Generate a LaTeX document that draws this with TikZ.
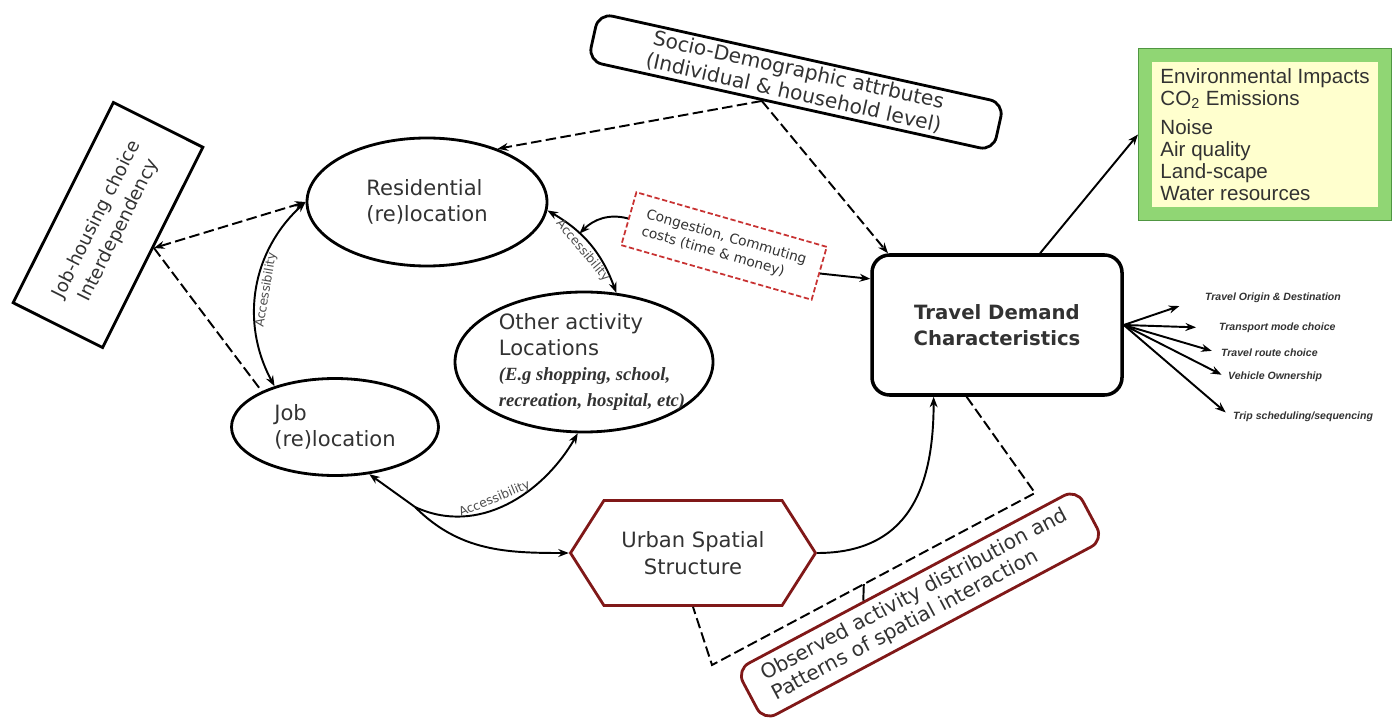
\documentclass[tikz,border=0pt]{standalone}
\usepackage{fontspec}
\setmainfont{DejaVu Sans}
\newfontfamily\arialfont{Liberation Sans}
\newfontfamily\tnrfont{Liberation Serif}
\usetikzlibrary{arrows.meta, calc, fit, backgrounds, shapes.geometric, shapes.symbols}

\definecolor{darkred}{RGB}{128,24,24}
\definecolor{congred}{RGB}{200,50,50}
\definecolor{envgreen}{RGB}{144,214,116}
\definecolor{envdark}{RGB}{80,150,66}
\definecolor{envyellow}{RGB}{255,255,206}
\definecolor{txtgray}{RGB}{50,50,50}

\begin{document}
\begin{tikzpicture}[
    >={Stealth[length=6pt, width=4.5pt]},
    loc/.style={ellipse, draw, line width=1.6pt, inner sep=0pt, align=left, text=txtgray,
                font=\fontsize{12}{15}\selectfont},
    tilted/.style={draw, line width=1.6pt, align=center, inner sep=2pt, text=txtgray},
    acc/.style={font=\fontsize{7}{8}\selectfont, text=black!70, inner sep=1.5pt},
    outlbl/.style={anchor=west, inner sep=1pt, text=txtgray,
                   font=\arialfont\bfseries\itshape\fontsize{6}{7}\selectfont},
    arr/.style={->, line width=1.1pt},
    dbl/.style={<->, line width=1.1pt},
    dsh/.style={line width=1.1pt, dash pattern=on 6pt off 2.5pt}
]
\useasboundingbox (0,0) rectangle (27.84,14.4);

% ---- LOCATIONS ----
\node[loc, minimum width=4.8cm, minimum height=2.56cm]  (res)   at (8.54,10.36) {Residential\\(re)location};
\node[loc, minimum width=4.14cm, minimum height=1.94cm] (job)   at (6.7,5.86)   {Job\\(re)location};
\node[loc, minimum width=5.16cm, minimum height=2.8cm,
      label={[align=left, text=txtgray, xshift=0.16cm, font=\fontsize{12}{14.5}\selectfont]center:
        Other activity\\Locations\\{\tnrfont\bfseries\itshape\fontsize{10.6}{14}\selectfont (E.g shopping, school,}\\
        {\tnrfont\bfseries\itshape\fontsize{10.6}{14}\selectfont recreation, hospital, etc)}}] (other) at (11.68,7.16) {};

% ---- TILTED BOXES ----
\node[tilted, rounded corners=8pt, inner sep=1pt, minimum width=8.3cm, minimum height=0.98cm, rotate=-12.5,
      font=\fontsize{11.5}{13.3}\selectfont] (socio) at (15.92,12.76)
    {Socio-Demographic attrbutes\\(Individual \& household level)};
\node[tilted, minimum width=4.48cm, minimum height=2cm, rotate=63.4,
      font=\fontsize{10.5}{14}\selectfont] (jh) at (2.16,9.9) {Job-housing choice\\Interdependency};
\node[tilted, draw=congred, line width=1pt, dash pattern=on 3pt off 1.5pt, align=left,
      minimum width=3.96cm, minimum height=1.1cm, rotate=-16,
      font=\fontsize{7.8}{10}\selectfont] (cong) at (14.48,9.48) {Congestion, Commuting\\costs (time \& money)};
\node[tilted, draw=darkred, rounded corners=8pt, align=left, minimum width=7.7cm, minimum height=1.16cm,
      rotate=28, font=\fontsize{11.5}{13}\selectfont] (obs) at (18.4,2.3)
    {Observed activity distribution and\\Patterns of spatial interaction};

% ---- TRAVEL DEMAND + OUTPUTS ----
\node[draw, line width=2pt, rounded corners=10pt, minimum width=5cm, minimum height=2.8cm, align=center,
      text=txtgray, font=\bfseries\fontsize{11.2}{14.5}\selectfont] (td) at (19.94,7.9)
    {Travel Demand\\Characteristics};

\node[fill=envyellow, minimum width=4.52cm, minimum height=2.9cm, align=left, text=txtgray,
      font=\arialfont\fontsize{11.7}{12.5}\selectfont] (env) at (25.3,11.71)
    {Environmental Impacts\\CO\textsubscript{2} Emissions\\[4pt]Noise\\Air quality\\Land-scape\\Water resources};

\node[outlbl] (o1) at (24.06,8.44) {Travel Origin \& Destination};
\node[outlbl] (o2) at (24.34,7.84) {Transport mode choice};
\node[outlbl] (o3) at (24.38,7.34) {Travel route choice};
\node[outlbl] (o4) at (24.52,6.86) {Vehicle Ownership};
\node[outlbl] (o5) at (24.62,6.06) {Trip scheduling/sequencing};

\foreach \n/\s in {o1/0.5, o2/0.42, o3/0.15, o4/0.1, o5/0.14}
    \draw[arr, shorten >=\s cm] (td.east) -- (\n.west);

% ---- URBAN STRUCTURE ----
\node[signal, signal to=east and west, signal pointer angle=115, draw=darkred, line width=1.6pt,
      minimum width=4.9cm, minimum height=2.1cm, align=center, text=txtgray,
      font=\fontsize{12}{15}\selectfont] (hex) at (13.86,3.34) {Urban Spatial\\Structure};

% ---- Background box ----
\begin{pgfonlayer}{background}
    \node[fit=(env), inner sep=0.26cm, fill=envgreen, draw=envdark, line width=0.8pt] (envbg) {};
\end{pgfonlayer}

% ---- Connectors ----
\coordinate (sd) at ($(socio.south west)!0.43!(socio.south east)$);
\draw[dsh, ->] (sd) -- (res.37);
\draw[dsh, ->] (sd) -- ($(td.north west)!0.07!(td.north east)$);

\draw[dsh, <->] (res.west) -- (jh.south);
\draw[dsh] (jh.south) -- (job.154);

\draw[dbl] (job.146) to[bend left=38] node[acc, sloped, below] {Accessibility} (res.west);
\draw[dbl] (res.-4) to[bend left=20] coordinate[pos=0.35] (accrc)
    node[acc, sloped, below, pos=0.5] {Accessibility} (other.65);

\draw[arr] (cong.west) to[out=165, in=45] (accrc);
\draw[arr] (cong.east) -- (td.160);

\coordinate (jsplit) at (8.3,4.26);
\draw[arr] (jsplit) -- (job.-54);
\draw[arr] (jsplit) to[out=-25, in=-120] node[acc, sloped, above, pos=0.45] {Accessibility} (other.-95);
\draw[arr] (jsplit) to[out=-45, in=180] (hex.west);

\draw[arr] (hex.east) to[out=0, in=-90, looseness=1.2] ($(td.south west)!0.25!(td.south east)$);

\coordinate (dk1) at (20.7,4.54);
\coordinate (dk2) at (14.24,1.1);
\draw[dsh] ($(td.south west)!0.38!(td.south east)$) -- (dk1) -- coordinate[pos=0.53] (dtick) (dk2) -- (hex.south);
\draw[line width=1.1pt] (dtick) -- ($(obs.north west)!0.376!(obs.north east)$);

\draw[arr] ($(td.north west)!0.67!(td.north east)$) -- (envbg.west);

\end{tikzpicture}
\end{document}
